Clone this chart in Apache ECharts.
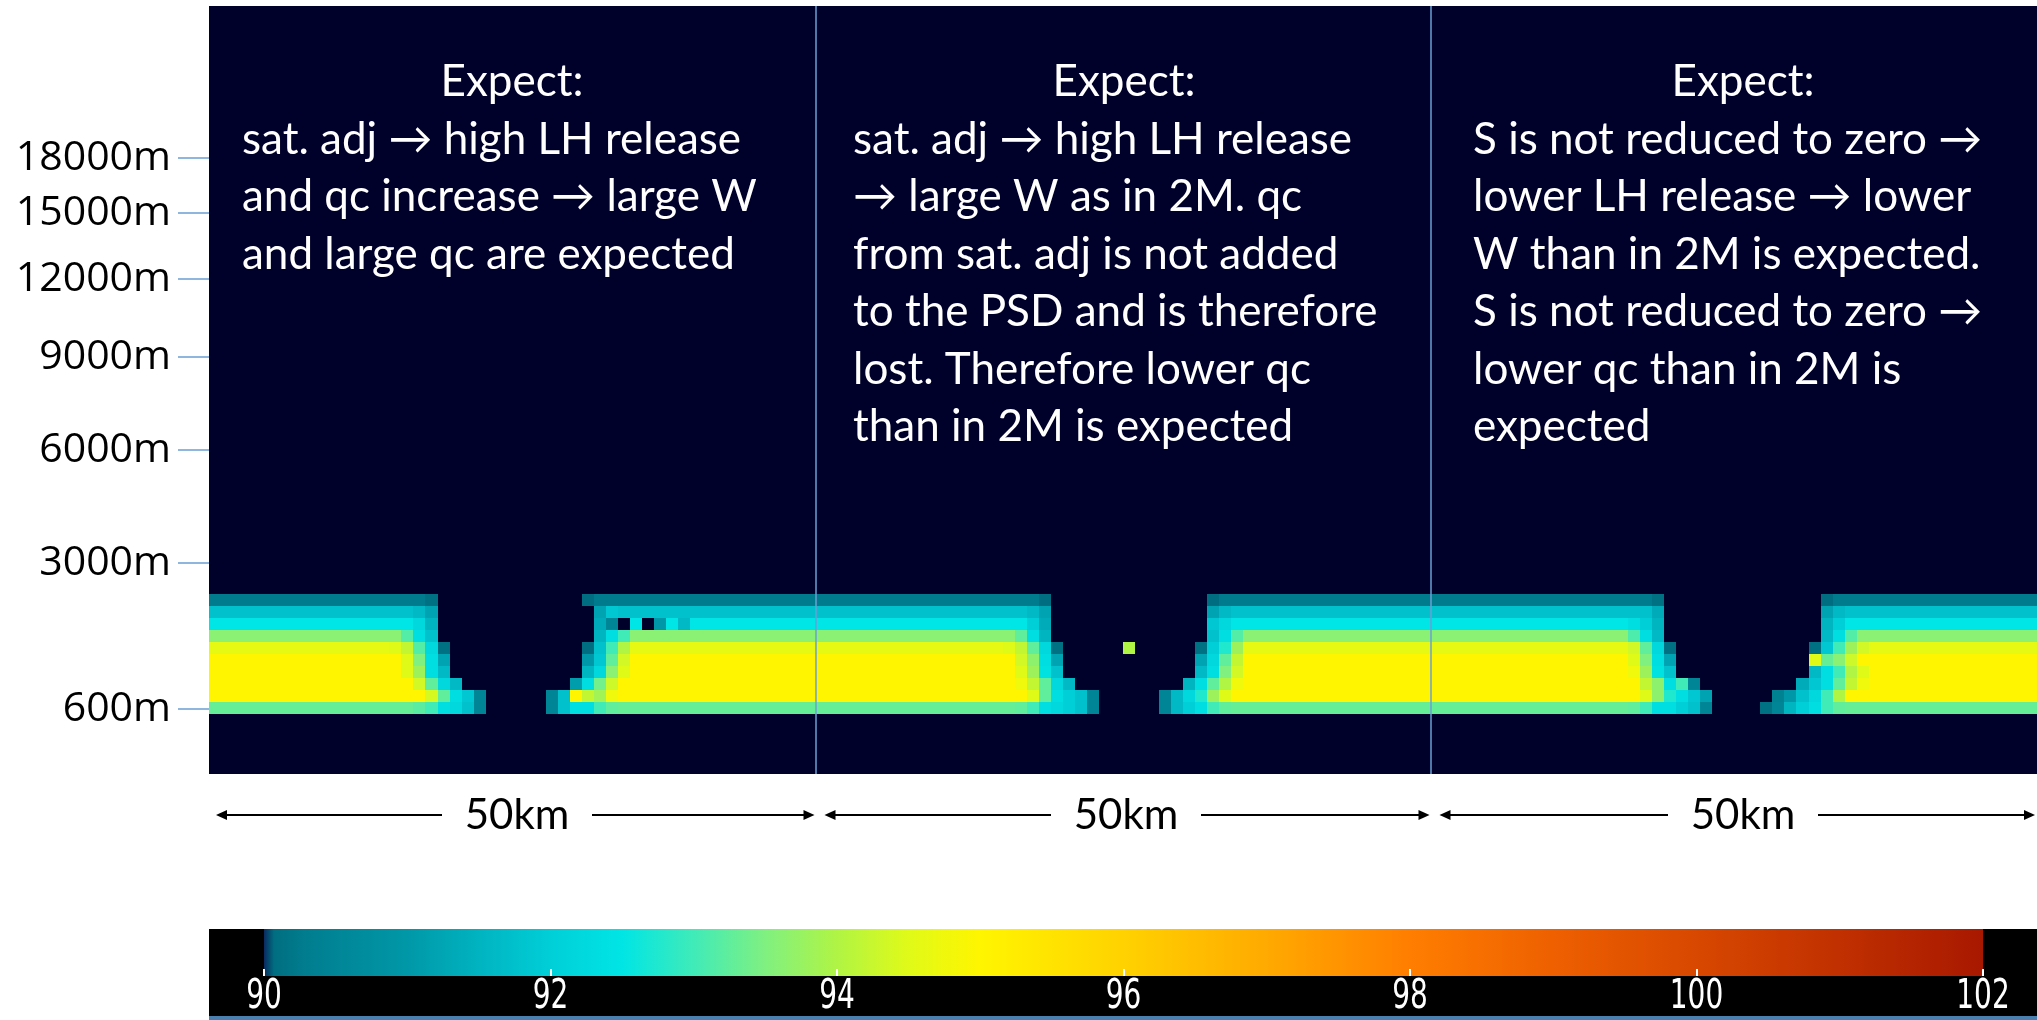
<!DOCTYPE html>
<html>
<head>
<meta charset="utf-8">
<title>Relative humidity cross-section</title>
<script src="https://cdn.jsdelivr.net/npm/echarts@6/dist/echarts.min.js"></script>
<style>
  html, body { margin: 0; padding: 0; background: #fff; }
  #chart { width: 2037px; height: 1020px; }
</style>
</head>
<body>
<div id="chart"></div>
<script>
// Grid size: horizontal columns and model levels
const N_COLS = 152;
const N_LEVELS = 64;

// Height tick labels and the model level where each one sits
const HEIGHT_LABELS = ['600m', '3000m', '6000m', '9000m', '12000m', '15000m', '18000m'];
const HEIGHT_LEVELS = [5.42, 17.58, 27.0, 34.75, 41.25, 46.75, 51.33];

// Panel separators (in column units)
const PANEL_BOUNDS = [50.43, 101.57];

// Colour bar tick labels
const COLORBAR_TICKS = [90, 92, 94, 96, 98, 100, 102];

// Relative humidity (%) per level, as runs [firstCol, lastCol, value]
const LEVEL14 = [[0,17,90.25],[18,18,90.12],
  [31,31,90.07],[32,68,90.25],[69,69,90.07],
  [83,83,90.07],[84,119,90.25],[120,120,90.12],
  [134,134,90.07],[135,151,90.25]];
const LEVEL13 = [[0,16,91.75],[17,17,91.6],[18,18,91.2],
  [32,32,91.2],[33,33,91.85],[34,67,91.75],[68,68,91.6],[69,69,91.2],
  [83,83,91.2],[84,84,91.6],[85,119,91.75],[120,120,91.35],
  [134,134,91.2],[135,135,91.6],[136,151,91.75]];
const LEVEL12 = [[0,16,92.5],[17,17,92.2],[18,18,91.5],
  [32,32,91.35],[33,33,90.5],[35,35,92.5],[37,37,91.0],[38,38,92.5],[39,39,91.6],[40,67,92.5],[68,68,92.0],[69,69,91.35],
  [83,83,91.85],[84,84,92.2],[85,117,92.5],[118,118,92.35],[119,119,92.0],[120,120,91.5],
  [134,134,91.5],[135,135,92.0],[136,151,92.5]];
const LEVEL11 = [[0,15,93.6],[16,16,93.15],[17,17,92.35],[18,18,91.75],
  [32,32,91.5],[33,33,92.35],[34,34,93.0],[35,66,93.6],[67,67,93.25],[68,68,92.35],[69,69,91.5],
  [83,83,91.75],[84,84,92.35],[85,85,93.15],[86,117,93.6],[118,118,93.1],[119,119,92.35],[120,120,91.6],
  [134,134,91.6],[135,135,92.35],[136,136,93.15],[137,151,93.6]];
const LEVEL10 = [[0,14,94.6],[15,15,94.5],[16,16,94.2],[17,17,93.15],[18,18,92.2],[19,19,90.12],
  [31,31,90.07],[32,32,91.75],[33,33,93.0],[34,34,94.0],[35,65,94.6],[66,66,94.5],[67,67,94.2],[68,68,93.25],[69,69,92.2],[70,70,90.12],
  [76,76,94.0],
  [82,82,90.12],[83,83,92.0],[84,84,92.75],[85,85,93.8],[86,117,94.6],[118,118,94.35],[119,119,93.25],[120,120,92.2],[121,121,90.12],
  [133,133,90.12],[134,134,91.85],[135,135,93.0],[136,136,93.8],[137,137,94.35],[138,151,94.6]];
const LEVEL9 = [[0,15,95.0],[16,16,94.5],[17,17,93.5],[18,18,92.35],[19,19,91.2],
  [31,31,91.0],[32,32,91.85],[33,33,93.25],[34,34,94.35],[35,66,95.0],[67,67,94.35],[68,68,93.65],[69,69,92.35],[70,70,91.2],
  [82,82,91.2],[83,83,92.2],[84,84,93.25],[85,85,94.2],[86,117,95.0],[118,118,94.5],[119,119,93.5],[120,120,92.35],[121,121,91.2],
  [133,133,94.5],[134,134,93.3],[135,135,93.6],[136,136,94.3],[137,151,95.0]];
const LEVEL8 = [[0,15,95.0],[16,16,94.5],[17,17,93.8],[18,18,92.35],[19,19,91.6],
  [31,31,91.5],[32,32,92.2],[33,33,93.6],[34,34,94.5],[35,66,95.0],[67,67,94.5],[68,68,93.8],[69,69,92.4],[70,70,91.75],
  [82,82,91.6],[83,83,92.35],[84,84,93.5],[85,85,94.35],[86,117,95.0],[118,118,94.75],[119,119,93.8],[120,120,92.4],[121,121,91.75],
  [133,133,91.6],[134,134,92.35],[135,135,93.0],[136,136,94.0],[137,137,94.5],[138,151,95.0]];
const LEVEL7 = [[0,16,95.0],[17,17,94.35],[18,18,93.25],[19,19,92.2],[20,20,91.6],
  [30,30,91.1],[31,31,92.35],[32,32,93.4],[33,33,94.3],[34,66,95.0],[67,67,94.75],[68,68,94.2],[69,69,93.25],[70,70,92.2],[71,71,91.6],
  [81,81,91.5],[82,82,92.35],[83,83,93.25],[84,84,94.0],[85,85,94.75],[86,118,95.0],[119,119,94.2],[120,120,93.65],[121,121,92.35],[122,122,93.0],[123,123,90.5],
  [132,132,91.35],[133,133,91.85],[134,134,92.35],[135,135,93.25],[136,136,94.2],[137,137,94.75],[138,151,95.0]];
const LEVEL6 = [[0,17,95.0],[18,18,94.4],[19,19,93.25],[20,20,92.35],[21,21,91.85],[22,22,90.5],
  [28,28,90.5],[29,29,91.75],[30,30,95.0],[31,31,94.2],[32,32,93.85],[33,33,94.75],[34,67,95.0],[68,68,94.5],[69,69,93.25],[70,70,92.35],[71,71,92.0],[72,72,91.75],[73,73,90.5],
  [79,79,90.5],[80,80,91.6],[81,81,92.2],[82,82,92.75],[83,83,93.8],[84,84,94.5],[85,118,95.0],[119,119,94.5],[120,120,93.65],[121,121,92.75],[122,122,92.35],[123,123,91.85],[124,124,91.2],
  [130,130,90.4],[131,131,91.0],[132,132,91.75],[133,133,92.2],[134,134,93.0],[135,135,94.0],[136,151,95.0]];
const LEVEL5 = [[0,16,93.3],[17,17,93.2],[18,18,93.0],[19,19,92.35],[20,20,92.2],[21,21,91.75],[22,22,90.5],
  [28,28,90.5],[29,29,91.75],[30,31,92.35],[32,32,93.0],[33,33,93.25],[34,66,93.3],[67,67,93.25],[68,68,93.0],[69,69,92.35],[70,70,92.2],[71,71,92.0],[72,72,91.75],[73,73,90.5],
  [79,79,90.5],[80,80,91.6],[81,81,92.0],[82,82,92.35],[83,83,93.0],[84,84,93.25],[85,117,93.3],[118,118,93.25],[119,119,93.0],[120,121,92.35],[122,122,92.0],[123,123,91.75],[124,124,90.5],
  [129,129,90.12],[130,130,90.5],[131,131,91.5],[132,132,92.0],[133,133,92.35],[134,134,93.0],[135,135,93.25],[136,151,93.3]];

const LEVEL_RUNS = [
  [5, LEVEL5], [6, LEVEL6], [7, LEVEL7], [8, LEVEL8], [9, LEVEL9],
  [10, LEVEL10], [11, LEVEL11], [12, LEVEL12], [13, LEVEL13], [14, LEVEL14]
];

// Colour scale for relative humidity
const RH_MIN = 90, RH_MAX = 102;
const COLOR_STOPS = [
  [90.0, '#0a2a60'], [90.07, '#006e80'], [90.3, '#007e90'], [91.0, '#0098a8'],
  [92.0, '#00cfd8'], [92.5, '#00e5e5'], [93.0, '#40ebb8'], [93.5, '#80f080'],
  [94.0, '#b0f444'], [94.5, '#e0fa18'], [95.0, '#fff500'], [96.0, '#ffd200'],
  [97.0, '#ffaa00'], [98.0, '#ff7e00'], [99.0, '#ee6000'], [100.0, '#d84800'],
  [101.0, '#c03000'], [102.0, '#a81800']
];

// Annotation text of the three panels
const PANEL_TEXT = [
  ['sat. adj \u2192 high LH release', 'and qc increase \u2192 large W', 'and large qc are expected'],
  ['sat. adj \u2192 high LH release', '\u2192 large W as in 2M. qc', 'from sat. adj is not added',
   'to the PSD and is therefore', 'lost. Therefore lower qc', 'than in 2M is expected'],
  ['S is not reduced to zero \u2192', 'lower LH release \u2192 lower', 'W than in 2M is expected.',
   'S is not reduced to zero \u2192', 'lower qc than in 2M is', 'expected']
];
const SPAN_LABEL = '50km';

function hexToRgb(h) {
  return [parseInt(h.slice(1, 3), 16), parseInt(h.slice(3, 5), 16), parseInt(h.slice(5, 7), 16)];
}
function colorFor(v) {
  if (v <= COLOR_STOPS[0][0]) return COLOR_STOPS[0][1];
  for (let i = 1; i < COLOR_STOPS.length; i++) {
    const [v1, c1] = COLOR_STOPS[i];
    if (v <= v1) {
      const [v0, c0] = COLOR_STOPS[i - 1];
      const t = (v - v0) / (v1 - v0);
      const a = hexToRgb(c0), b = hexToRgb(c1);
      return 'rgb(' + a.map((x, k) => Math.round(x + (b[k] - x) * t)).join(',') + ')';
    }
  }
  return COLOR_STOPS[COLOR_STOPS.length - 1][1];
}

// Expand the runs into [col, level, value] cells
const cells = [];
LEVEL_RUNS.forEach(([level, runs]) => {
  runs.forEach(([c0, c1, v]) => {
    for (let c = c0; c <= c1; c++) cells.push([c, level, v]);
  });
});

const chart = echarts.init(document.getElementById('chart'), null, { renderer: 'canvas' });

const textColor = '#ffffff';
const textFont = 'Lato, "Open Sans", sans-serif';

const option = {
  animation: false,
  backgroundColor: '#ffffff',
  grid: [
    { left: 209, right: 0, top: 6, height: 768, show: true, backgroundColor: '#00012a', borderWidth: 0 },
    { left: 264, width: 1719, top: 929, height: 47 }
  ],
  xAxis: [
    { gridIndex: 0, type: 'value', min: 0, max: N_COLS, show: false },
    {
      gridIndex: 1, type: 'value', min: RH_MIN, max: RH_MAX, interval: 2, z: 5,
      axisLine: { show: false },
      splitLine: { show: false },
      axisTick: { inside: true, length: 7, lineStyle: { color: '#ffffff', width: 2 } },
      axisLabel: { show: false }
    }
  ],
  yAxis: [
    {
      gridIndex: 0, type: 'value', min: 0, max: N_LEVELS,
      axisLine: { show: false },
      splitLine: { show: false },
      axisTick: {
        show: true, length: 31, customValues: HEIGHT_LEVELS,
        lineStyle: { color: '#6a9fd4', width: 1.5 }
      },
      axisLabel: {
        customValues: HEIGHT_LEVELS,
        margin: 38, fontSize: 41, color: '#000000',
        fontFamily: '"Open Sans", sans-serif',
        formatter: function (v) {
          const i = HEIGHT_LEVELS.findIndex(h => Math.abs(h - v) < 1e-6);
          return i >= 0 ? HEIGHT_LABELS[i] : '';
        }
      }
    },
    { gridIndex: 1, type: 'value', min: 0, max: 1, show: false }
  ],
  series: [
    {
      type: 'custom',
      name: 'RH',
      xAxisIndex: 0, yAxisIndex: 0,
      data: cells,
      renderItem: function (params, api) {
        const c = api.value(0), l = api.value(1);
        const p0 = api.coord([c, l + 1]);
        const p1 = api.coord([c + 1, l]);
        // snap cell edges to whole pixels so neighbouring cells meet without seams
        const x0 = Math.round(p0[0]), x1 = Math.round(p1[0]);
        const y0 = Math.round(p0[1]), y1 = Math.round(p1[1]);
        return {
          type: 'rect',
          shape: { x: x0, y: y0, width: x1 - x0, height: y1 - y0 },
          style: { fill: colorFor(api.value(2)) }
        };
      },
      markLine: {
        silent: true,
        symbol: 'none',
        label: { show: false },
        lineStyle: { color: '#6a9fd4', width: 1.5, type: 'solid' },
        data: PANEL_BOUNDS.map(x => ({ xAxis: x }))
      }
    },
    {
      type: 'custom',
      name: 'colorbar',
      xAxisIndex: 1, yAxisIndex: 1,
      z: 1,
      data: [[RH_MIN, RH_MAX]],
      renderItem: function (params, api) {
        const p0 = api.coord([api.value(0), 1]);
        const p1 = api.coord([api.value(1), 0]);
        const stops = COLOR_STOPS.map(([v, col]) => ({ offset: (v - RH_MIN) / (RH_MAX - RH_MIN), color: col }));
        return {
          type: 'rect',
          shape: { x: p0[0], y: p0[1], width: p1[0] - p0[0], height: p1[1] - p0[1] },
          style: { fill: new echarts.graphic.LinearGradient(0, 0, 1, 0, stops) }
        };
      }
    }
  ]
};

chart.setOption(option);

// Colour bar frame, panel annotations and the 50 km span arrows
const graphics = [];
graphics.push({ type: 'rect', z: -1, shape: { x: 209, y: 929, width: 1828, height: 87 }, style: { fill: '#000000' } });
graphics.push({ type: 'rect', z: -1, shape: { x: 209, y: 1016, width: 1828, height: 4 }, style: { fill: '#4a80b0' } });

// colour bar tick labels in a tall, narrow face
COLORBAR_TICKS.forEach(v => {
  const x = chart.convertToPixel({ xAxisIndex: 1 }, v);
  graphics.push({
    type: 'text', x: x, y: 998, scaleX: 0.7,
    style: { text: String(v), fill: '#ffffff', fontSize: 40, fontFamily: '"DejaVu Sans", sans-serif', textAlign: 'center', textVerticalAlign: 'middle' }
  });
});

const px = v => chart.convertToPixel({ xAxisIndex: 0 }, v);
const panelEdges = [0, PANEL_BOUNDS[0], PANEL_BOUNDS[1], N_COLS];
const textLeft = [242, 853, 1473];
const titleCenter = [512, 1124, 1743];
const spanCenter = [517, 1126, 1743];
const lineH = 57.5;

for (let p = 0; p < 3; p++) {
  const xl = px(panelEdges[p]);
  const xr = px(panelEdges[p + 1]);
  graphics.push({
    type: 'text', x: titleCenter[p], y: 82,
    style: { text: 'Expect:', fill: textColor, fontSize: 44, fontFamily: textFont, textAlign: 'center', textVerticalAlign: 'middle' }
  });
  graphics.push({
    type: 'text', x: textLeft[p], y: 82 + lineH / 2,
    style: {
      text: PANEL_TEXT[p].join('\n'), fill: textColor, fontSize: 44, fontFamily: textFont,
      lineHeight: lineH, textAlign: 'left', textVerticalAlign: 'top'
    }
  });

  // span arrow with the label in its gap
  const y = 815;
  const a0 = xl + 7 + (p === 0 ? 0 : 2);
  const a1 = Math.min(xr, 2036) - 1;
  const mid = spanCenter[p];
  const gap = 75;
  graphics.push({ type: 'line', shape: { x1: a0 + 8, y1: y, x2: mid - gap, y2: y }, style: { stroke: '#000', lineWidth: 2 } });
  graphics.push({ type: 'line', shape: { x1: mid + gap, y1: y, x2: a1 - 8, y2: y }, style: { stroke: '#000', lineWidth: 2 } });
  graphics.push({ type: 'polygon', shape: { points: [[a0, y], [a0 + 11, y - 5], [a0 + 11, y + 5]] }, style: { fill: '#000' } });
  graphics.push({ type: 'polygon', shape: { points: [[a1, y], [a1 - 11, y - 5], [a1 - 11, y + 5]] }, style: { fill: '#000' } });
  graphics.push({
    type: 'text', x: mid, y: y,
    style: { text: SPAN_LABEL, fill: '#000', fontSize: 42, fontFamily: textFont, textAlign: 'center', textVerticalAlign: 'middle' }
  });
}

chart.setOption({ graphic: { elements: graphics } });
</script>
</body>
</html>
